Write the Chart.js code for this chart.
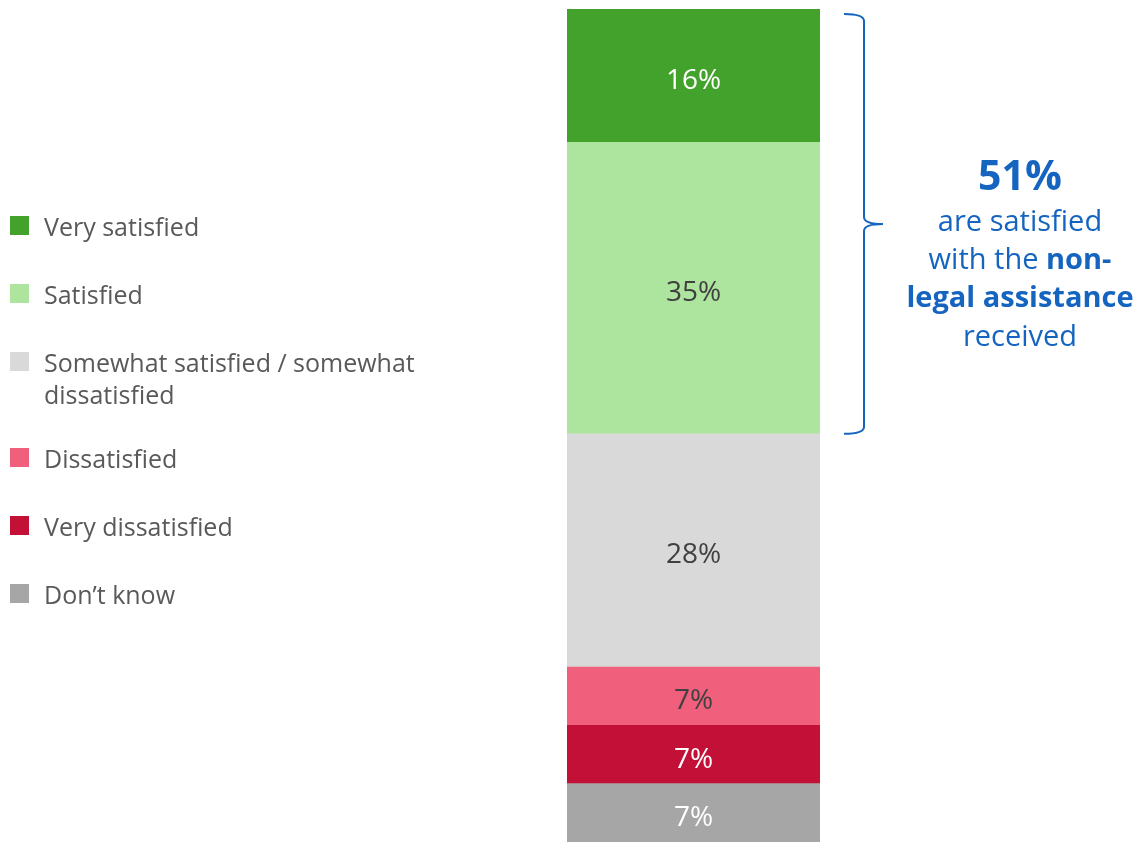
<!DOCTYPE html>
<html>
<head>
<meta charset="utf-8">
<script src="https://cdn.jsdelivr.net/npm/chart.js@4.4.1/dist/chart.umd.min.js"></script>
<style>
  html, body { margin: 0; padding: 0; background: #fff; }
  #wrap { position: relative; width: 1142px; height: 842px; }
  #legend { position: absolute; left: 10px; top: 210px; margin: 0; padding: 0; list-style: none;
            font-family: 'Open Sans', sans-serif; font-size: 25px; color: #595959; }
  #legend li { display: flex; align-items: flex-start; line-height: 32px; margin-bottom: 36px; }
  #legend li.two { margin-bottom: 32px; }
  #legend .box { width: 19px; height: 19px; margin: 6px 15px 0 0; flex: none; }
</style>
</head>
<body>
<div id="wrap">
  <canvas id="satisfaction" width="1142" height="842"></canvas>
  <ul id="legend"></ul>
</div>
<script>
// satisfaction with non-legal assistance, top of the bar first
var categories = ['Very satisfied', 'Satisfied', 'Somewhat satisfied / somewhat dissatisfied', 'Dissatisfied', 'Very dissatisfied', 'Don\u2019t know'];
var shares = [16, 35, 28, 7, 7, 7];
var colours = ['#43a22b', '#aee59e', '#d9d9d9', '#f05f7c', '#c31036', '#a6a6a6'];
var labelColours = ['#ffffff', '#404040', '#404040', '#404040', '#ffffff', '#ffffff'];
var satisfiedShare = shares[0] + shares[1];

var blue = '#1565c0';
var font = "'Open Sans', sans-serif";

// legend on the left
var legend = document.getElementById('legend');
categories.forEach(function (name, i) {
    var li = document.createElement('li');
    if (i == 2) li.className = 'two';
    var box = document.createElement('span');
    box.className = 'box';
    box.style.background = colours[i];
    var txt = document.createElement('span');
    if (i == 2) {
        txt.innerHTML = 'Somewhat satisfied / somewhat<br>dissatisfied';
    } else {
        txt.textContent = name;
    }
    li.appendChild(box);
    li.appendChild(txt);
    legend.appendChild(li);
});

// chart.js stacks the first dataset at the bottom, so go in reverse
var datasets = [];
for (var i = categories.length - 1; i >= 0; i--) {
    datasets.push({
        label: categories[i],
        data: [shares[i]],
        backgroundColor: colours[i],
        labelColour: labelColours[i],
        barPercentage: 1,
        categoryPercentage: 1
    });
}

var valueLabels = {
    id: 'valueLabels',
    afterDatasetsDraw: function (chart) {
        var ctx = chart.ctx;
        ctx.save();
        ctx.font = '28px ' + font;
        ctx.textAlign = 'center';
        ctx.textBaseline = 'middle';
        chart.data.datasets.forEach(function (ds, d) {
            var bar = chart.getDatasetMeta(d).data[0];
            ctx.fillStyle = ds.labelColour;
            ctx.fillText(ds.data[0] + '%', bar.x, (bar.y + bar.base) / 2 + 5);
        });
        ctx.restore();
    }
};

var brace = {
    id: 'brace',
    afterDraw: function (chart) {
        var ctx = chart.ctx;
        var y = chart.scales.y;
        var right = chart.chartArea.right;
        var top = y.getPixelForValue(100) + 5;
        var bottom = y.getPixelForValue(100 - satisfiedShare);
        var mid = (top + bottom) / 2;
        var x0 = right + 24, xv = right + 44, tip = right + 63;
        var r = 7;

        ctx.save();
        ctx.strokeStyle = blue;
        ctx.lineWidth = 2;
        ctx.beginPath();
        ctx.moveTo(x0, top);
        ctx.quadraticCurveTo(xv, top, xv, top + r);
        ctx.lineTo(xv, mid - r);
        ctx.quadraticCurveTo(xv, mid, tip, mid);
        ctx.moveTo(tip, mid);
        ctx.quadraticCurveTo(xv, mid, xv, mid + r);
        ctx.lineTo(xv, bottom - r);
        ctx.quadraticCurveTo(xv, bottom, x0, bottom);
        ctx.stroke();

        // callout text, mixing regular and bold runs
        var cx = right + 200;
        var lines = [
            { base: 190, runs: [[satisfiedShare + '%', 'bold 41px ']] },
            { base: 231, runs: [['are satisfied', '29px ']] },
            { base: 269, runs: [['with the ', '29px '], ['non-', 'bold 29px ']] },
            { base: 307, runs: [['legal assistance', 'bold 29px ']] },
            { base: 346, runs: [['received', '29px ']] }
        ];
        ctx.fillStyle = blue;
        ctx.textBaseline = 'alphabetic';
        ctx.textAlign = 'left';
        lines.forEach(function (line) {
            var w = 0;
            line.runs.forEach(function (run) {
                ctx.font = run[1] + font;
                w += ctx.measureText(run[0]).width;
            });
            var x = cx - w / 2;
            line.runs.forEach(function (run) {
                ctx.font = run[1] + font;
                ctx.fillText(run[0], x, line.base);
                x += ctx.measureText(run[0]).width;
            });
        });
        ctx.restore();
    }
};

var satisfaction = document.getElementById('satisfaction').getContext('2d');
var myChart = new Chart(satisfaction, {
    type: 'bar',
    data: {
        labels: ['Satisfaction'],
        datasets: datasets
    },
    options: {
        responsive: false,
        animation: false,
        layout: {
            padding: { left: 567, right: 322, top: 9, bottom: 0 }
        },
        scales: {
            x: { stacked: true, display: false },
            y: { stacked: true, display: false, min: 0, max: 100 }
        },
        plugins: {
            legend: { display: false },
            tooltip: { enabled: false }
        }
    },
    plugins: [valueLabels, brace]
});
</script>
</body>
</html>
